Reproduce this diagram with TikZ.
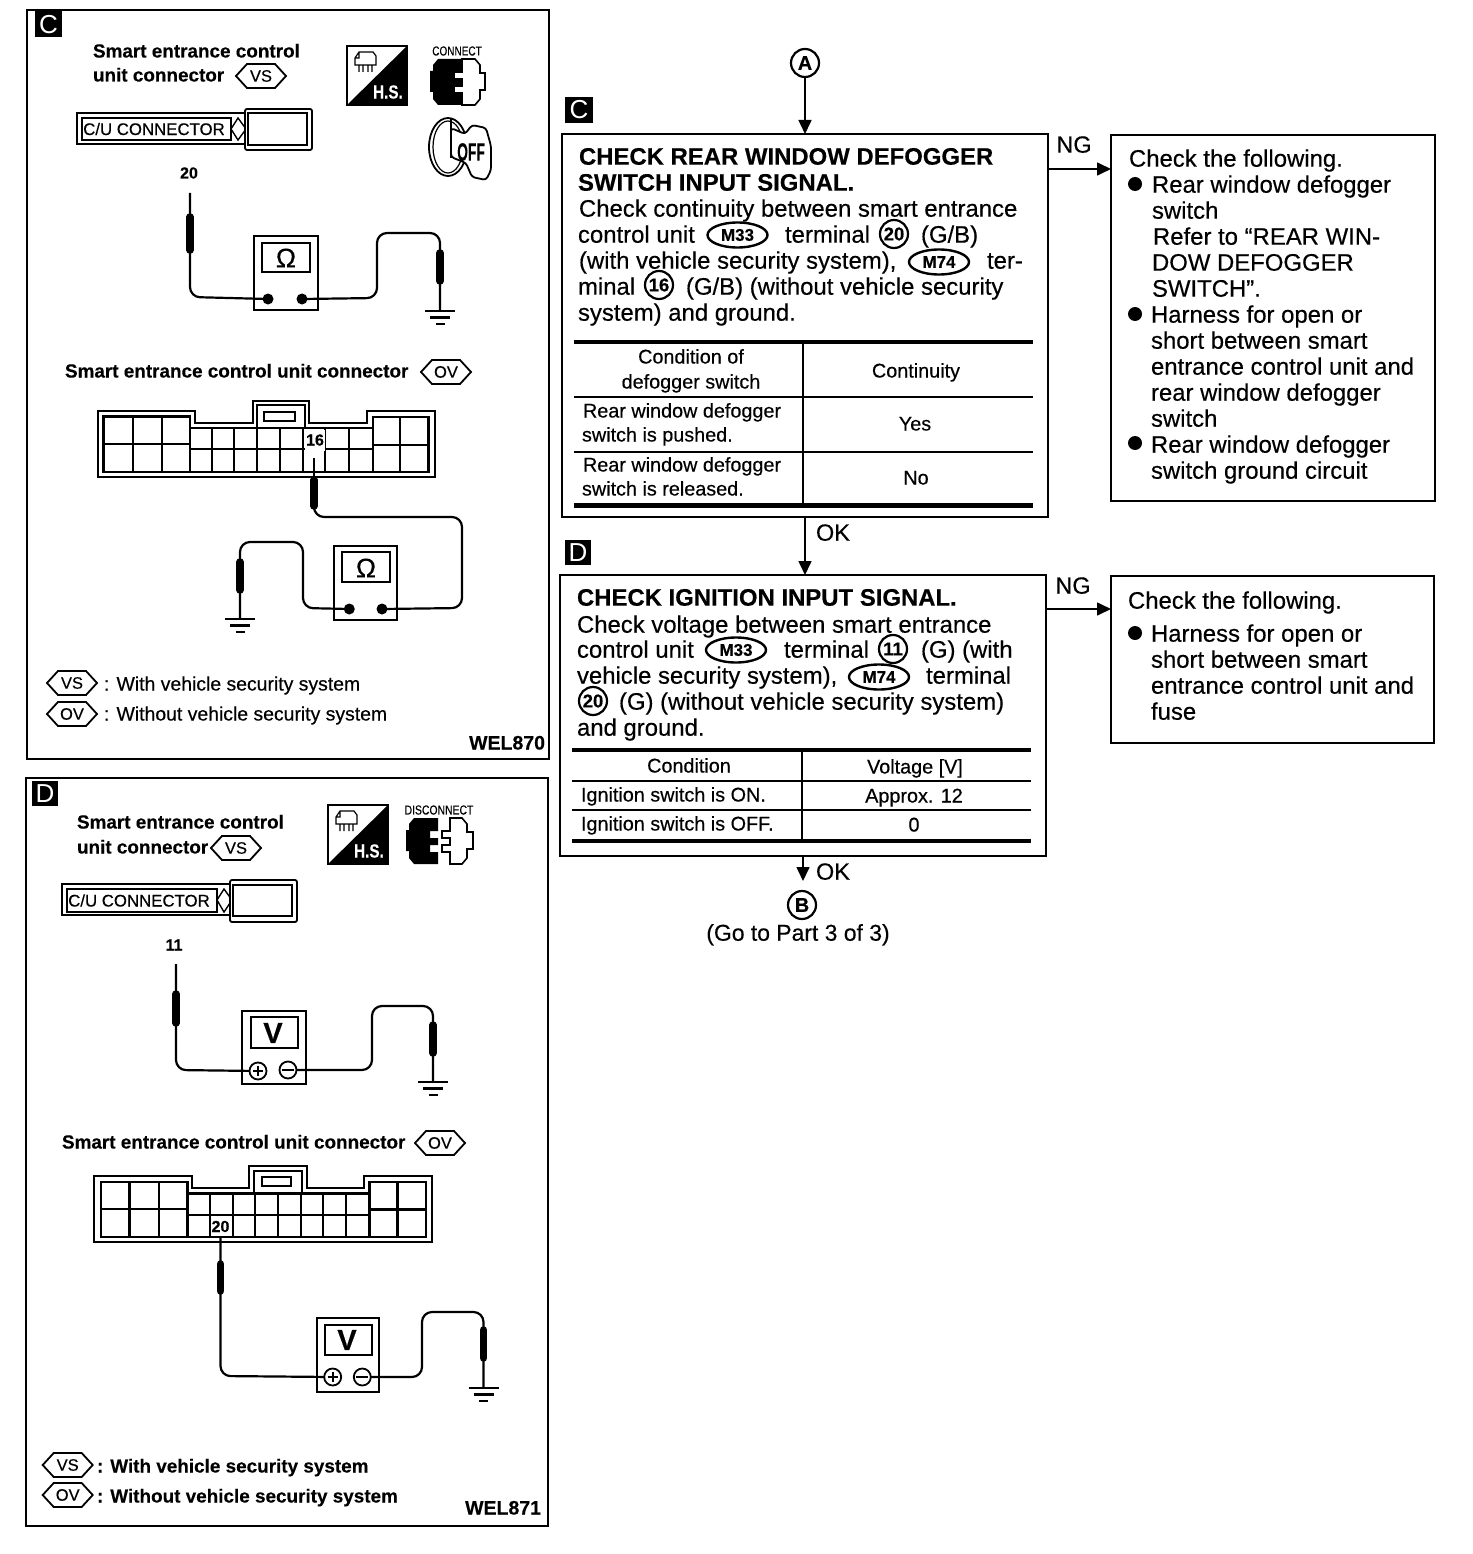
\documentclass[tikz,border=0pt]{standalone}
\usepackage{fontspec}
\usetikzlibrary{shapes.geometric,arrows.meta,calc}
\setmainfont{Liberation Sans}
\newfontfamily\regf[FakeBold=0.4]{Liberation Sans}
\newfontfamily\blkf[FakeBold=0.3]{Liberation Sans Bold}
\newcommand\fz[1]{\fontsize{#1}{#1}\selectfont}
\tikzset{
  x=1pt,y=-1pt,
  every node/.style={inner sep=0pt,outer sep=0pt},
  body/.style={anchor=base west,yshift=-7.7pt,font=\regf\fz{23.9}},
  head/.style={anchor=base west,yshift=-7.7pt,font=\blkf\fz{23.9}},
  cell/.style={anchor=base west,yshift=-6.5pt,font=\regf\fz{19.8}},
  cellc/.style={anchor=base,yshift=-6.5pt,font=\regf\fz{19.8}},
  side/.style={anchor=base west,yshift=-6.5pt,font=\regf\fz{19.4}},
  sideb/.style={anchor=base west,yshift=-6.5pt,font=\blkf\fz{18.9}},
  bigc/.style={anchor=base,yshift=-7.7pt,font=\regf\fz{23.5}},
  pin/.style={anchor=base,yshift=-5.5pt,font=\blkf\fz{16}},
  wel/.style={anchor=base east,yshift=-6.5pt,font=\blkf\fz{19.5}},
  tagbox/.style={fill=black,text=white,minimum width=27pt,minimum height=26pt,anchor=center,font=\fz{26}},
  fbox/.style={draw,line width=2pt,anchor=north west,fill=none},
  thin/.style={line width=1.8pt},
  thick2/.style={line width=2.4pt},
  rule/.style={line width=4.5pt},
  wire/.style={line width=2.2pt,rounded corners=10pt},
  arr/.style={line width=1.6pt,-{Triangle[length=14pt,width=13pt]}},
  ccirc/.style={draw,circle,line width=2.2pt,minimum size=28pt,font=\blkf\fz{18.5}},
  cell2/.style={draw,ellipse,line width=2.4pt,minimum width=60pt,minimum height=25pt,font=\blkf\fz{17}},
  meter/.style={draw,line width=1.8pt,anchor=north west,fill=white},
  dial/.style={draw,line width=2pt,anchor=north west,fill=white},
  dot/.style={fill=black,circle,minimum size=11pt},
  pm/.style={draw,circle,fill=white,line width=1.8pt,minimum size=17pt},
}
% hexagonal code mark: name, cx, cy, text
\newcommand\hexmark[4]{%
  \draw[line width=1.8pt] (#2-25,#3) -- (#2-14,#3-12) -- (#2+14,#3-12) -- (#2+25,#3) -- (#2+14,#3+12) -- (#2-14,#3+12) -- cycle;
  \node[font=\regf\fz{16.5}] (#1) at (#2,#3) {#4};}
% ground: x, y
\newcommand\gnd[2]{%
  \draw[line width=2.6pt] (#1-15,#2) -- (#1+15,#2);
  \draw[line width=2.6pt] (#1-10,#2+6.5) -- (#1+10,#2+6.5);
  \draw[line width=2.6pt] (#1-4.5,#2+13) -- (#1+4.5,#2+13);}
% probe: x, y1, y2 (thick part)
\newcommand\probe[3]{\draw[line width=7.5pt,line cap=round] (#1,#2+2) -- (#1,#3-2);}
% meter terminals
\newcommand\plusm[2]{\node[pm] (#1) at (#2) {};
  \draw[line width=1.6pt] ($(#2)+(-5,0)$) -- ($(#2)+(5,0)$) ($(#2)+(0,-5)$) -- ($(#2)+(0,5)$);}
\newcommand\minusm[2]{\node[pm] (#1) at (#2) {};
  \draw[line width=1.8pt] ($(#2)+(-6,0)$) -- ($(#2)+(6,0)$);}
% H.S. icon: x, y
\newcommand\hsicon[2]{\begin{scope}[shift={(#1,#2)}]
  \draw[line width=2pt] (0,0) rectangle (60,59);
  \fill (0,59) -- (60,0) -- (60,59) -- cycle;
  \node[text=white,font=\blkf\fz{19},anchor=center] at (41,46) {\scalebox{.8}[1]{H.S.}};
  \draw[line width=1.2pt] (8,12) -- (12,6) -- (26,6) -- (29,10) -- (29,19) -- (8,19) -- cycle (12,6) -- (12,12) -- (8,12)
    (12,19) -- (12,26) (16,19) -- (16,26) (21,19) -- (21,26) (25,19) -- (25,26);
\end{scope}}
\newcommand\blackplug{%
  \fill (3,6) -- (8,0) -- (32,0) -- (32,13) -- (24,13) -- (24,20) -- (32,20) -- (32,27) -- (24,27) -- (24,34) -- (32,34) -- (32,46) -- (8,46) -- (3,40) -- (3,33) -- (0,33) -- (0,12) -- (3,12) -- cycle;}
\begin{document}
\begin{tikzpicture}
\useasboundingbox (0,0) rectangle (1472,1554);
\fill[white] (0,0) rectangle (1472,1554);

%% ============ PANEL C ============
\node[fbox,minimum width=522pt,minimum height=749pt] (panelC) at (27,10) {};
\node[tagbox] (tagPC) at (48.5,24.5) {C};
\node[sideb] (pc1) at (93,51) {Smart entrance control};
\node[sideb] (pc2) at (93,75) {unit connector};
\hexmark{pcvs}{261}{76}{VS}
\hsicon{347}{46}
\node[font=\regf\fz{13}] (pccon) at (457,51) {\scalebox{.77}[1]{CONNECT}};
\begin{scope}[shift={(430,59)}]
  \blackplug
  \draw[line width=1.6pt,fill=white] (24,13) -- (32,13) -- (32,0) -- (45,0) -- (50,6) -- (50,14) -- (55,14) -- (55,31) -- (50,31) -- (50,40) -- (45,46) -- (32,46) -- (32,34) -- (24,34) -- (24,27) -- (32,27) -- (32,20) -- (24,20) -- cycle;
\end{scope}
% key
\draw[line width=1.8pt] (448,147) ellipse [x radius=19,y radius=29];
\draw[line width=1.2pt] (448,147) ellipse [x radius=15,y radius=26];
\draw[line width=1.8pt,fill=white,rounded corners=3pt] (451,128) -- (465,134) -- (472,125) -- (486,128) -- (491,146) -- (491,170) -- (486,180) -- (472,177) -- (466,163) -- (451,157) -- cycle;
\draw[line width=1.8pt] (451,118) -- (451,158);
\node[font=\blkf\fz{25}] (pcoff) at (471,152) {\scalebox{.55}[1]{OFF}};
% C/U connector
\draw[thin] (77,113) rectangle (245,144);
\node[draw,line width=1.8pt,anchor=north west,minimum width=149pt,minimum height=22pt] (pccu) at (82,118) {};
\node[font=\regf\fz{16.8},anchor=center] (pccut) at (154,129) {C/U CONNECTOR};
\draw[line width=1.4pt] (231,129) -- (238,118) -- (246,129) -- (238,140) -- cycle;
\draw[thin,fill=white,rounded corners=2pt] (245,109) rectangle (312,150);
\draw[line width=2.2pt,fill=white] (248,113) rectangle (307,145);
\node[pin] (pc20) at (189,173) {20};
% meter 1
\coordinate (tipC1) at (190,193);
\coordinate (gndC1) at (440,311);
\node[meter,minimum width=64pt,minimum height=74pt] (mC1) at (254,236) {};
\node[dial,minimum width=48pt,minimum height=29pt] (dC1) at (262,243) {};
\node[font=\regf\fz{27}] (oC1) at (286,258) {Ω};
\coordinate (aC1) at (268,299); \coordinate (bC1) at (302,299);
\draw[wire] (tipC1) -- (190,297) -- (aC1);
\draw[wire] (bC1) -- (377,298) -- (377,233) -- (440,233) -- (gndC1);
\probe{190}{215}{252} \probe{440}{251}{283}
\node[dot] at (aC1) {}; \node[dot] at (bC1) {};
\gnd{440}{311}

\node[sideb] (pc3) at (65,371) {Smart entrance control unit connector};
\hexmark{pcov}{446}{372}{OV}
% large connector C
\draw[thin] (97.7,411) -- (195,411) -- (195,423) -- (252.7,423) -- (252.7,400.7) -- (309.3,400.7) -- (309.3,423) -- (367.3,423) -- (367.3,411) -- (435.3,411) -- (435.3,477.3) -- (97.7,477.3) -- cycle;
\draw[thick2] (103.3,416.3) -- (190,416.3) -- (190,428) -- (256.7,428) -- (256.7,405) -- (305,405) -- (305,428) -- (372.7,428) -- (372.7,417) -- (428.3,417) -- (428.3,472) -- (103.3,472) -- cycle;
\draw[thick2] (256.7,428) -- (305,428);
\draw[thin] (264.3,411.7) rectangle (295,421);
\foreach \v in {132.7,161.7,190} \draw[thick2] (\v,416.3) -- (\v,472);
\foreach \v in {211.7,234,256.7,280,303.3,325.3,349.3} \draw[thin] (\v,428) -- (\v,472);
\foreach \v in {372.7,400} \draw[thick2] (\v,417) -- (\v,472);
\draw[thick2] (103.3,444) -- (190,444);
\draw[thin] (190,449.3) -- (372.7,449.3);
\draw[thick2] (372.7,445) -- (428.3,445);
\fill[white] (304.5,430) rectangle (324.5,451);
\node[pin] (pc16) at (315,440) {16};
\coordinate (tipC2) at (314,458);
\node[meter,minimum width=63pt,minimum height=74pt] (mC2) at (334.3,546) {};
\node[dial,minimum width=48pt,minimum height=30pt] (dC2) at (342.3,552.3) {};
\node[font=\regf\fz{27}] (oC2) at (366,568) {Ω};
\coordinate (aC2) at (349.3,609); \coordinate (bC2) at (382,609);
\draw[line width=2pt] (tipC2) -- (314,482);
\draw[wire] (314,490) -- (314,517) -- (462,517) -- (462,608) -- (bC2);
\draw[wire] (aC2) -- (303,608) -- (303,542) -- (240,542) -- (240,619);
\probe{314}{478}{508} \probe{240}{560}{592}
\node[dot] at (aC2) {}; \node[dot] at (bC2) {};
\gnd{240}{619}
\hexmark{pcl1}{72}{683}{VS}
\node[side] (pct1) at (104,684) {: With vehicle security system};
\hexmark{pcl2}{72}{714}{OV}
\node[side] (pct2) at (104,714) {: Without vehicle security system};
\node[wel] (pcw) at (545,743) {WEL870};

%% ============ PANEL D ============
\node[fbox,minimum width=522pt,minimum height=748pt] (panelD) at (26,778) {};
\node[tagbox,minimum width=26pt,minimum height=25pt] (tagPD) at (45,793.5) {D};
\node[sideb] (pd1) at (77,822) {Smart entrance control};
\node[sideb] (pd2) at (77,847) {unit connector};
\hexmark{pdvs}{236}{848}{VS}
\hsicon{328}{805}
\node[font=\regf\fz{13}] (pddis) at (439,810) {\scalebox{.8}[1]{DISCONNECT}};
\begin{scope}[shift={(406,818)}]
  \blackplug
  \draw[line width=1.6pt,fill=white] (36,13) -- (44,13) -- (44,0) -- (56,0) -- (61,6) -- (61,14) -- (67,14) -- (67,31) -- (61,31) -- (61,40) -- (56,46) -- (44,46) -- (44,34) -- (36,34) -- (36,27) -- (44,27) -- (44,20) -- (36,20) -- cycle;
\end{scope}
\draw[thin] (62,884) rectangle (232,915);
\node[draw,line width=1.8pt,anchor=north west,minimum width=150pt,minimum height=23pt] (pdcu) at (67,889) {};
\node[font=\regf\fz{16.8},anchor=center] (pdcut) at (139,900.5) {C/U CONNECTOR};
\draw[line width=1.4pt] (217,900) -- (224,889) -- (232,900) -- (224,912) -- cycle;
\draw[thin,fill=white,rounded corners=2pt] (230,880) rectangle (297,922);
\draw[line width=2.2pt,fill=white] (233,885) rectangle (292,916);
\node[pin] (pd11) at (174,945) {11};
% meter D1
\coordinate (tipD1) at (176,964);
\node[meter,minimum width=64pt,minimum height=73pt] (mD1) at (242,1011) {};
\node[dial,minimum width=47pt,minimum height=31pt] (dD1) at (251,1017) {};
\node[font=\blkf\fz{29}] (vD1) at (273,1033) {V};
\coordinate (aD1) at (258,1071); \coordinate (bD1) at (288,1070);
\draw[wire] (tipD1) -- (176,1070) -- (aD1);
\draw[wire] (bD1) -- (372,1070) -- (372,1006) -- (433,1006) -- (433,1082);
\probe{176}{992}{1025} \probe{433}{1023}{1055}
\plusm{pD1}{aD1} \minusm{nD1}{bD1}
\gnd{433}{1082}

\node[sideb] (pd3) at (62,1142) {Smart entrance control unit connector};
\hexmark{pdov}{440}{1143}{OV}
% large connector D
\draw[thin] (94.3,1176) -- (191.7,1176) -- (191.7,1188.3) -- (249.3,1188.3) -- (249.3,1165.7) -- (306.7,1165.7) -- (306.7,1188.3) -- (364.3,1188.3) -- (364.3,1176) -- (431.7,1176) -- (431.7,1242.3) -- (94.3,1242.3) -- cycle;
\draw[thick2] (101,1181.7) -- (187.3,1181.7) -- (187.3,1193.3) -- (254,1193.3) -- (254,1170.7) -- (301.7,1170.7) -- (301.7,1193.3) -- (369.3,1193.3) -- (369.3,1182) -- (425.7,1182) -- (425.7,1236.7) -- (101,1236.7) -- cycle;
\draw[thick2] (254,1193.3) -- (301.7,1193.3);
\draw[thin] (261.7,1177.3) rectangle (290.7,1186);
\foreach \v in {129.3,159,187.3} \draw[thick2] (\v,1181.7) -- (\v,1236.7);
\foreach \v in {210,232.7,255,277.7,300.7,323.3,345.7} \draw[thin] (\v,1193.3) -- (\v,1236.7);
\foreach \v in {369.3,397.3} \draw[thick2] (\v,1182) -- (\v,1236.7);
\draw[thick2] (101,1209) -- (187.3,1209);
\draw[thin] (187.3,1215) -- (369.3,1215);
\draw[thick2] (369.3,1209.3) -- (425.7,1209.3);
\fill[white] (210.8,1216.5) rectangle (231.8,1235.5);
\node[pin] (pd20) at (220.5,1226.5) {20};
\coordinate (tipD2) at (220.5,1236);
\node[meter,minimum width=62pt,minimum height=74pt] (mD2) at (316.7,1318) {};
\node[dial,minimum width=47pt,minimum height=30pt] (dD2) at (325,1325) {};
\node[font=\blkf\fz{29}] (vD2) at (347,1340) {V};
\coordinate (aD2) at (332.7,1377); \coordinate (bD2) at (362.3,1377);
\draw[wire] (tipD2) -- (220.5,1376) -- (aD2);
\draw[wire] (bD2) -- (422,1377) -- (422,1312) -- (483.5,1312) -- (483.5,1388);
\probe{220.5}{1262}{1293} \probe{483.5}{1328}{1360}
\plusm{pD2}{aD2} \minusm{nD2}{bD2}
\gnd{483.5}{1388}
\hexmark{pdl1}{67.7}{1465}{VS}
\node[sideb] (pdt1) at (97,1466) {: With vehicle security system};
\hexmark{pdl2}{67.7}{1495}{OV}
\node[sideb] (pdt2) at (97,1496) {: Without vehicle security system};
\node[wel] (pdw) at (541,1508) {WEL871};

%% ============ FLOW C ============
\node[ccirc,minimum size=28pt,font=\blkf\fz{20}] (A) at (805,63) {A};
\node[tagbox,minimum width=28pt] (tagC) at (579,110) {C};
\node[fbox,minimum width=486.5pt,minimum height=383pt] (boxC) at (561.5,134) {};
\draw[arr] (A) -- (A |- boxC.north);
\node[head] (c1) at (579,157) {CHECK REAR WINDOW DEFOGGER};
\node[head] (c2) at (578,183) {SWITCH INPUT SIGNAL.};
\node[body] (c3) at (579,209) {Check continuity between smart entrance};
\node[body] (c4a) at (578,235) {control unit};
\node[cell2] (m33a) at (737.5,235) {M33};
\node[body] (c4b) at (785,235) {terminal};
\node[ccirc] (n20a) at (894,234) {20};
\node[body] (c4c) at (921,235) {(G/B)};
\node[body] (c5a) at (579,261) {(with vehicle security system),};
\node[cell2] (m74a) at (939,262) {M74};
\node[body] (c5b) at (987,261) {ter-};
\node[body] (c6a) at (578,287) {minal};
\node[ccirc] (n16a) at (659,285) {16};
\node[body] (c6b) at (686,287) {(G/B) (without vehicle security};
\node[body] (c7) at (578,313) {system) and ground.};
% table C
\draw[rule] (574,342) -- (1033,342);
\draw[thick2] (574,397) -- (1033,397);
\draw[thick2] (574,451.7) -- (1033,451.7);
\draw[rule] (574,505.7) -- (1033,505.7);
\draw[line width=2.4pt] (803,342) -- (803,505.7);
\node[cellc] (tc1) at (691,357) {Condition of};
\node[cellc] (tc2) at (691,382) {defogger switch};
\node[cellc] (tc3) at (916,371) {Continuity};
\node[cell] (tc4) at (583,411) {Rear window defogger};
\node[cell] (tc5) at (582,435) {switch is pushed.};
\node[cellc] (tc6) at (915,424) {Yes};
\node[cell] (tc7) at (583,465) {Rear window defogger};
\node[cell] (tc8) at (582,489) {switch is released.};
\node[cellc] (tc9) at (916,478) {No};
% NG box C
\node[fbox,minimum width=324pt,minimum height=366pt] (ngC) at (1111,135) {};
\coordinate (ngCs) at (1048,169);
\draw[arr] (ngCs) -- (ngCs -| ngC.west);
\node[bigc] (ngCl) at (1074,145) {NG};
\node[body] (r1) at (1129,159) {Check the following.};
\node[dot,minimum size=14pt] (b1) at (1135,184) {};
\node[body] (r2) at (1152,185) {Rear window defogger};
\node[body] (r3) at (1152,211) {switch};
\node[body] (r4) at (1153,237) {Refer to “REAR WIN-};
\node[body] (r5) at (1152,263) {DOW DEFOGGER};
\node[body] (r6) at (1152,289) {SWITCH”.};
\node[dot,minimum size=14pt] (b2) at (1135,314) {};
\node[body] (r7) at (1151,315) {Harness for open or};
\node[body] (r8) at (1151,341) {short between smart};
\node[body] (r9) at (1151,367) {entrance control unit and};
\node[body] (r10) at (1151,393) {rear window defogger};
\node[body] (r11) at (1151,419) {switch};
\node[dot,minimum size=14pt] (b3) at (1135,443) {};
\node[body] (r12) at (1151,445) {Rear window defogger};
\node[body] (r13) at (1151,471) {switch ground circuit};

%% ============ FLOW D ============
\node[tagbox,minimum width=26pt,minimum height=25pt] (tagD) at (578,552.5) {D};
\node[fbox,minimum width=486pt,minimum height=281pt] (boxD) at (560,575) {};
\coordinate (okC) at (805,517);
\draw[arr] (okC) -- (okC |- boxD.north);
\node[bigc] (okCl) at (833,533) {OK};
\node[head] (d1) at (577,598) {CHECK IGNITION INPUT SIGNAL.};
\node[body] (d2) at (577,625) {Check voltage between smart entrance};
\node[body] (d3a) at (577,650) {control unit};
\node[cell2] (m33b) at (736,650) {M33};
\node[body] (d3b) at (784,650) {terminal};
\node[ccirc] (n11) at (893,649) {11};
\node[body] (d3c) at (921,650) {(G) (with};
\node[body] (d4a) at (577,676) {vehicle security system),};
\node[cell2] (m74b) at (879,677) {M74};
\node[body] (d4b) at (926,676) {terminal};
\node[ccirc] (n20b) at (593,701) {20};
\node[body] (d5) at (619,702) {(G) (without vehicle security system)};
\node[body] (d6) at (577,728) {and ground.};
% table D
\draw[rule] (572,750) -- (1031,750);
\draw[thick2] (572,781) -- (1031,781);
\draw[thick2] (572,810) -- (1031,810);
\draw[rule] (572,841) -- (1031,841);
\draw[line width=2.4pt] (802,750) -- (802,841);
\node[cellc] (td1) at (689,766) {Condition};
\node[cellc] (td2) at (915,767) {Voltage [V]};
\node[cell] (td3) at (581,795) {Ignition switch is ON.};
\node[cellc] (td4) at (914,796) {Approx. 12};
\node[cell] (td5) at (581,824) {Ignition switch is OFF.};
\node[cellc] (td6) at (914,825) {0};
% NG box D
\node[fbox,minimum width=323pt,minimum height=167pt] (ngD) at (1111,576) {};
\coordinate (ngDs) at (1046,609);
\draw[arr] (ngDs) -- (ngDs -| ngD.west);
\node[bigc] (ngDl) at (1073,586) {NG};
\node[body] (s1) at (1128,601) {Check the following.};
\node[dot,minimum size=14pt] (b4) at (1135,633) {};
\node[body] (s2) at (1151,634) {Harness for open or};
\node[body] (s3) at (1151,660) {short between smart};
\node[body] (s4) at (1151,686) {entrance control unit and};
\node[body] (s5) at (1151,712) {fuse};
% to B
\node[ccirc,font=\blkf\fz{20}] (B) at (802,905) {B};
\coordinate (okD) at (803,856);
\coordinate (okDe) at (803,881);
\draw[arr] (okD) -- (okDe);
\node[bigc] (okDl) at (833,872) {OK};
\node[bigc,font=\regf\fz{22.9}] (goto) at (798,933) {(Go to Part 3 of 3)};
\end{tikzpicture}
\end{document}
